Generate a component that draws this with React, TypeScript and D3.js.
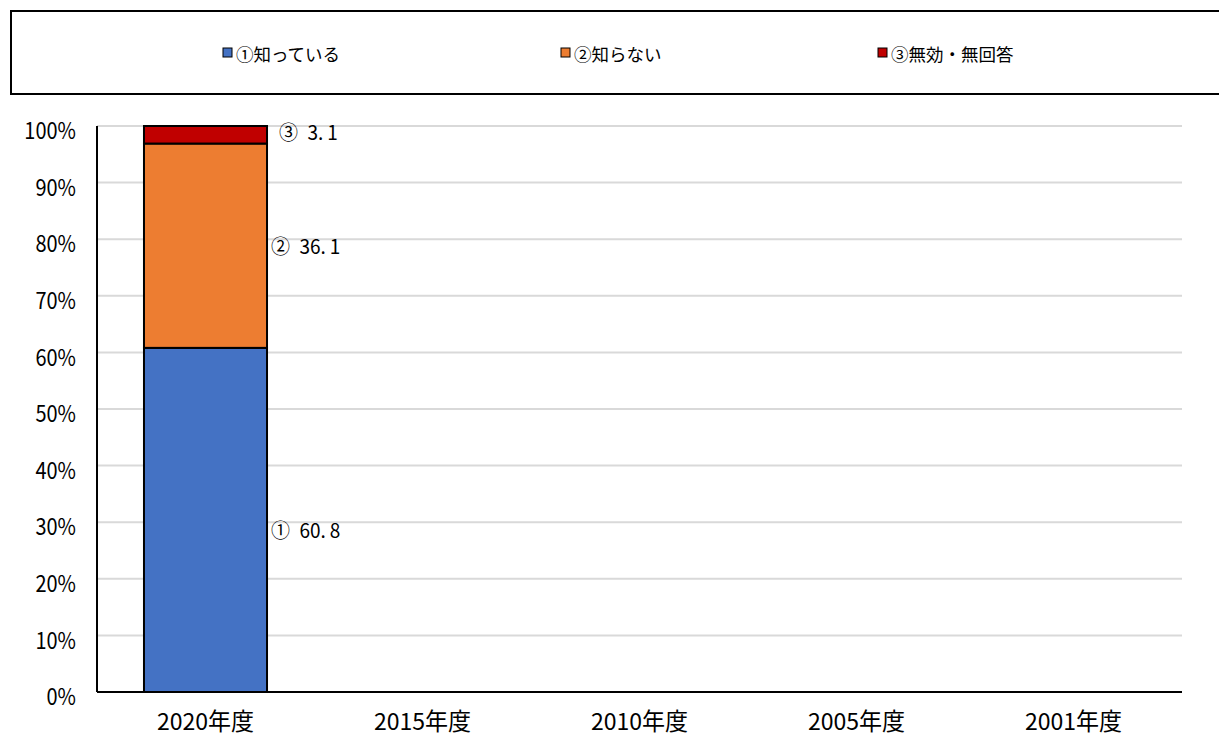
import React from "react";
import * as d3 from "d3";

const categories = ["2020年度", "2015年度", "2010年度", "2005年度", "2001年度"];
const seriesNames = ["①知っている", "②知らない", "③無効・無回答"];
const labelPrefixes = ["①", "②", "③"];
const known = [60.8, null, null, null, null];
const unknown = [36.1, null, null, null, null];
const invalid = [3.1, null, null, null, null];
const yTicks = [0, 10, 20, 30, 40, 50, 60, 70, 80, 90, 100];
const colors = ["#4472C4", "#ED7D31", "#C00000"];

const W = 1219, H = 738;
const plot = { left: 97, right: 1182, top: 126, bottom: 692 };
const labelDy = [9, 0, -3];

const font = "'Noto Sans CJK JP', sans-serif";

function T({ x, y, size, sx = 1, anchor = "start", children }: any) {
  return (
    <text transform={`translate(${x},${y}) scale(${sx},1)`} textAnchor={anchor} dominantBaseline="central" fontSize={size} fontFamily={font} fill="#000">
      {children}
    </text>
  );
}

export default function App() {
  const x = d3.scaleBand<string>().domain(categories).range([plot.left, plot.right]).paddingInner(0.433).paddingOuter(0.2165);
  const y = d3.scaleLinear().domain([0, 100]).range([plot.bottom, plot.top]);
  const series = [known, unknown, invalid];
  const rows = categories.map((c, i) => ({ cat: c, s0: known[i], s1: unknown[i], s2: invalid[i] }));
  const stack = d3.stack<any>().keys(["s0", "s1", "s2"]).value((d, k) => (d[k] == null ? 0 : d[k]));
  const stacked = stack(rows);
  const legendX = [222, 560, 877];
  return (
    <svg width={W} height={H} style={{ position: "absolute", left: 0, top: 0, background: "#fff" }}>
      <rect x={11} y={11} width={1230} height={83} fill="#fff" stroke="#000" strokeWidth={2} />
      {seriesNames.map((n, i) => (
        <g key={n}>
          <rect x={legendX[i] + 1} y={48} width={9} height={9} fill={colors[i]} stroke="#000" strokeWidth={1} />
          <T x={legendX[i] + 14} y={53} size={17.5}>{n}</T>
        </g>
      ))}
      {yTicks.map((t) => (
        <g key={t}>
          {t > 0 && <line x1={plot.left} x2={plot.right} y1={y(t)} y2={y(t)} stroke="#d9d9d9" strokeWidth={2} />}
          <T x={76} y={y(t) + 3} size={23.5} sx={0.85} anchor="end">{t}%</T>
        </g>
      ))}
      {stacked.map((layer, si) =>
        layer.map((d, ci) => {
          const v = series[si][ci];
          if (v == null) return null;
          const bx = x(categories[ci])!;
          return (
            <rect key={si + "-" + ci} x={bx} width={x.bandwidth()} y={y(d[1])} height={y(d[0]) - y(d[1])} fill={colors[si]} stroke="#000" strokeWidth={2} />
          );
        })
      )}
      {stacked.map((layer, si) =>
        layer.map((d, ci) => {
          const v = series[si][ci];
          if (v == null) return null;
          const bx = x(categories[ci])! + x.bandwidth();
          return (
            <T key={"l" + si + "-" + ci} x={bx + 4 + (si === 2 ? 8 : 0)} y={(y(d[0]) + y(d[1])) / 2 + labelDy[si]} size={20} sx={0.95}>
              {labelPrefixes[si]}{"\u2002"}{v.toFixed(1).replace(".", ".\u2009")}
            </T>
          );
        })
      )}
      <line x1={plot.left} x2={plot.left} y1={plot.top} y2={plot.bottom} stroke="#000" strokeWidth={2} />
      <line x1={plot.left} x2={plot.right} y1={plot.bottom} y2={plot.bottom} stroke="#000" strokeWidth={2} />
      {categories.map((c) => (
        <T key={c} x={x(c)! + x.bandwidth() / 2} y={720} size={23.5} sx={0.98} anchor="middle">{c}</T>
      ))}
    </svg>
  );
}
